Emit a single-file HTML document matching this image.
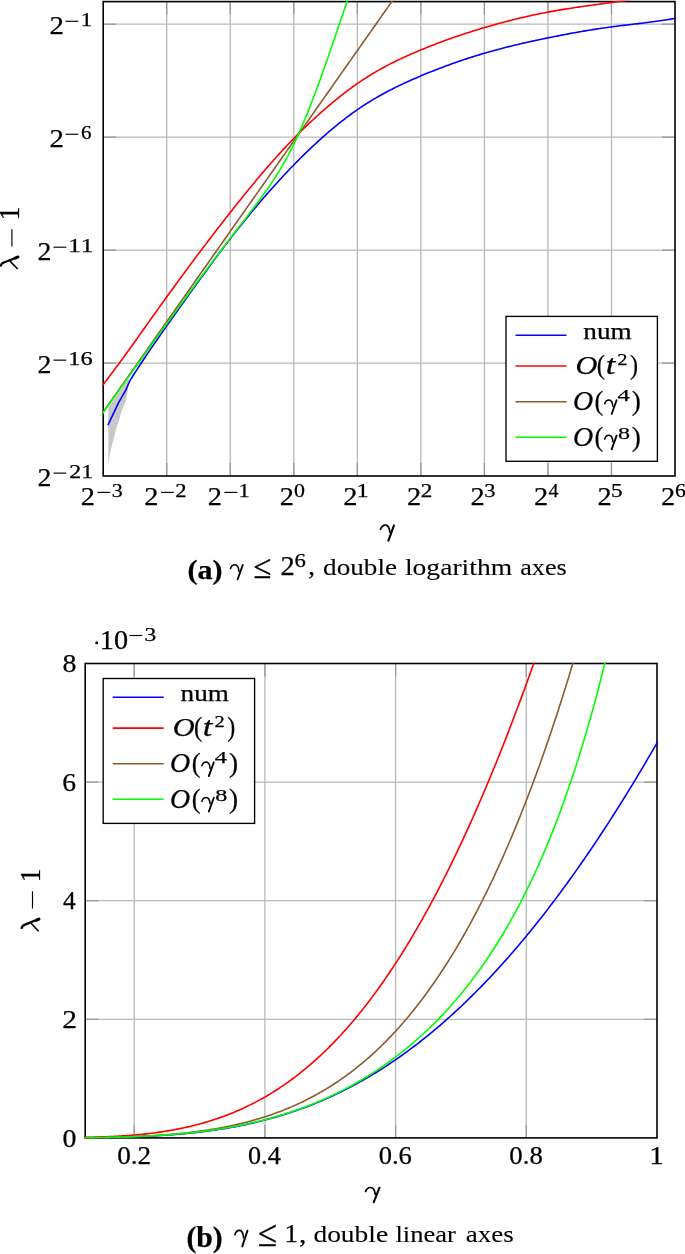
<!DOCTYPE html>
<html><head><meta charset="utf-8"><style>
html,body{margin:0;padding:0;background:#fff;width:685px;height:1254px;overflow:hidden}
svg text{font-family:"Liberation Serif",serif;font-kerning:none;stroke:#000;stroke-width:0.25px}
</style></head><body>
<svg width="685" height="1254" viewBox="0 0 685 1254" style="position:absolute;left:0;top:0;will-change:transform">
<defs><clipPath id="ca"><rect x="102.40" y="0.80" width="573.40" height="476.00"/></clipPath>
<clipPath id="cb"><rect x="84.40" y="662.70" width="573.40" height="476.00"/></clipPath></defs>
<line x1="166.73" y1="1.60" x2="166.73" y2="476.00" stroke="#b9b9b9" stroke-width="1.3"/>
<line x1="230.27" y1="1.60" x2="230.27" y2="476.00" stroke="#b9b9b9" stroke-width="1.3"/>
<line x1="293.80" y1="1.60" x2="293.80" y2="476.00" stroke="#b9b9b9" stroke-width="1.3"/>
<line x1="357.33" y1="1.60" x2="357.33" y2="476.00" stroke="#b9b9b9" stroke-width="1.3"/>
<line x1="420.87" y1="1.60" x2="420.87" y2="476.00" stroke="#b9b9b9" stroke-width="1.3"/>
<line x1="484.40" y1="1.60" x2="484.40" y2="476.00" stroke="#b9b9b9" stroke-width="1.3"/>
<line x1="547.93" y1="1.60" x2="547.93" y2="476.00" stroke="#b9b9b9" stroke-width="1.3"/>
<line x1="611.47" y1="1.60" x2="611.47" y2="476.00" stroke="#b9b9b9" stroke-width="1.3"/>
<line x1="103.20" y1="24.19" x2="675.00" y2="24.19" stroke="#b9b9b9" stroke-width="1.3"/>
<line x1="103.20" y1="137.14" x2="675.00" y2="137.14" stroke="#b9b9b9" stroke-width="1.3"/>
<line x1="103.20" y1="250.10" x2="675.00" y2="250.10" stroke="#b9b9b9" stroke-width="1.3"/>
<line x1="103.20" y1="363.05" x2="675.00" y2="363.05" stroke="#b9b9b9" stroke-width="1.3"/>
<line x1="166.73" y1="476.00" x2="166.73" y2="463.00" stroke="#9a9a9a" stroke-width="1.3"/>
<line x1="166.73" y1="1.60" x2="166.73" y2="14.60" stroke="#9a9a9a" stroke-width="1.3"/>
<line x1="230.27" y1="476.00" x2="230.27" y2="463.00" stroke="#9a9a9a" stroke-width="1.3"/>
<line x1="230.27" y1="1.60" x2="230.27" y2="14.60" stroke="#9a9a9a" stroke-width="1.3"/>
<line x1="293.80" y1="476.00" x2="293.80" y2="463.00" stroke="#9a9a9a" stroke-width="1.3"/>
<line x1="293.80" y1="1.60" x2="293.80" y2="14.60" stroke="#9a9a9a" stroke-width="1.3"/>
<line x1="357.33" y1="476.00" x2="357.33" y2="463.00" stroke="#9a9a9a" stroke-width="1.3"/>
<line x1="357.33" y1="1.60" x2="357.33" y2="14.60" stroke="#9a9a9a" stroke-width="1.3"/>
<line x1="420.87" y1="476.00" x2="420.87" y2="463.00" stroke="#9a9a9a" stroke-width="1.3"/>
<line x1="420.87" y1="1.60" x2="420.87" y2="14.60" stroke="#9a9a9a" stroke-width="1.3"/>
<line x1="484.40" y1="476.00" x2="484.40" y2="463.00" stroke="#9a9a9a" stroke-width="1.3"/>
<line x1="484.40" y1="1.60" x2="484.40" y2="14.60" stroke="#9a9a9a" stroke-width="1.3"/>
<line x1="547.93" y1="476.00" x2="547.93" y2="463.00" stroke="#9a9a9a" stroke-width="1.3"/>
<line x1="547.93" y1="1.60" x2="547.93" y2="14.60" stroke="#9a9a9a" stroke-width="1.3"/>
<line x1="611.47" y1="476.00" x2="611.47" y2="463.00" stroke="#9a9a9a" stroke-width="1.3"/>
<line x1="611.47" y1="1.60" x2="611.47" y2="14.60" stroke="#9a9a9a" stroke-width="1.3"/>
<line x1="103.20" y1="24.19" x2="116.20" y2="24.19" stroke="#9a9a9a" stroke-width="1.3"/>
<line x1="675.00" y1="24.19" x2="662.00" y2="24.19" stroke="#9a9a9a" stroke-width="1.3"/>
<line x1="103.20" y1="137.14" x2="116.20" y2="137.14" stroke="#9a9a9a" stroke-width="1.3"/>
<line x1="675.00" y1="137.14" x2="662.00" y2="137.14" stroke="#9a9a9a" stroke-width="1.3"/>
<line x1="103.20" y1="250.10" x2="116.20" y2="250.10" stroke="#9a9a9a" stroke-width="1.3"/>
<line x1="675.00" y1="250.10" x2="662.00" y2="250.10" stroke="#9a9a9a" stroke-width="1.3"/>
<line x1="103.20" y1="363.05" x2="116.20" y2="363.05" stroke="#9a9a9a" stroke-width="1.3"/>
<line x1="675.00" y1="363.05" x2="662.00" y2="363.05" stroke="#9a9a9a" stroke-width="1.3"/>
<rect x="103.20" y="1.60" width="571.80" height="474.40" fill="none" stroke="#000" stroke-width="1.6"/>
<g clip-path="url(#ca)" fill="none" stroke-width="1.6" stroke-linejoin="round">
<path d="M108.30,407.40 L117.40,394.60 L125.00,383.80 L129.00,378.40 L128.80,381.50 L127.40,393.20 L126.10,400.80 L123.50,406.80 L121.20,412.00 L119.60,418.20 L116.30,428.40 L114.30,436.00 L112.30,444.00 L110.50,451.50 L109.20,458.00 L108.50,465.00 L108.30,465.00Z" fill="#c8c8c8" stroke="none"/>
<path d="M107.90,425.10 L118.60,402.70 L126.20,389.30 L129.70,381.10 L131.40,378.20 L134.00,374.29 L135.82,371.42 L137.64,368.58 L139.46,365.77 L141.28,362.98 L143.10,360.22 L144.92,357.49 L146.74,354.77 L148.56,352.08 L150.38,349.41 L152.20,346.75 L154.02,344.11 L155.84,341.48 L157.66,338.86 L159.48,336.25 L161.30,333.66 L163.12,331.07 L164.94,328.48 L166.76,325.90 L168.58,323.32 L170.40,320.74 L172.22,318.16 L174.04,315.59 L175.86,313.01 L177.68,310.45 L179.50,307.88 L181.32,305.32 L183.14,302.76 L184.96,300.21 L186.78,297.66 L188.60,295.11 L190.42,292.57 L192.24,290.04 L194.06,287.51 L195.88,284.98 L197.70,282.46 L199.52,279.95 L201.34,277.45 L203.16,274.95 L204.98,272.46 L206.80,269.97 L208.62,267.50 L210.44,265.03 L212.26,262.57 L214.08,260.12 L215.90,257.68 L217.72,255.25 L219.54,252.83 L221.36,250.42 L223.18,248.02 L225.00,245.63 L226.82,243.25 L228.64,240.88 L230.46,238.53 L232.28,236.19 L234.10,233.86 L235.92,231.54 L237.74,229.23 L239.56,226.94 L241.38,224.66 L243.20,222.39 L245.02,220.14 L246.84,217.90 L248.66,215.67 L250.48,213.46 L252.30,211.26 L254.12,209.07 L255.94,206.90 L257.76,204.74 L259.58,202.59 L261.40,200.46 L263.22,198.34 L265.04,196.24 L266.86,194.15 L268.68,192.08 L270.50,190.02 L272.32,187.97 L274.14,185.94 L275.96,183.92 L277.78,181.92 L279.60,179.93 L281.42,177.96 L283.24,176.00 L285.06,174.06 L286.88,172.13 L288.70,170.22 L290.52,168.32 L292.34,166.43 L294.16,164.56 L295.98,162.70 L297.80,160.86 L299.62,159.04 L301.44,157.22 L303.26,155.43 L305.08,153.65 L306.90,151.88 L308.72,150.13 L310.54,148.39 L312.36,146.68 L314.18,144.97 L316.00,143.29 L317.82,141.62 L319.64,139.96 L321.46,138.32 L323.28,136.70 L325.10,135.10 L326.92,133.51 L328.74,131.94 L330.56,130.38 L332.38,128.85 L334.20,127.33 L336.02,125.83 L337.84,124.35 L339.66,122.88 L341.48,121.44 L343.30,120.01 L345.12,118.61 L346.94,117.22 L348.76,115.86 L350.58,114.51 L352.40,113.19 L354.22,111.88 L356.04,110.60 L357.86,109.34 L359.68,108.10 L361.50,106.88 L363.32,105.68 L365.14,104.51 L366.96,103.35 L368.78,102.21 L370.60,101.09 L372.42,99.99 L374.24,98.91 L376.06,97.84 L377.88,96.79 L379.70,95.76 L381.52,94.74 L383.34,93.74 L385.16,92.76 L386.98,91.79 L388.80,90.83 L390.62,89.89 L392.44,88.96 L394.26,88.05 L396.08,87.14 L397.90,86.25 L399.72,85.37 L401.54,84.51 L403.36,83.65 L405.18,82.81 L407.00,81.97 L408.82,81.15 L410.64,80.33 L412.46,79.52 L414.28,78.73 L416.10,77.94 L417.92,77.15 L419.74,76.38 L421.56,75.61 L423.38,74.85 L425.20,74.10 L427.02,73.35 L428.84,72.61 L430.66,71.88 L432.48,71.16 L434.30,70.44 L436.12,69.73 L437.94,69.02 L439.76,68.32 L441.58,67.63 L443.40,66.94 L445.22,66.26 L447.04,65.59 L448.86,64.92 L450.68,64.27 L452.50,63.61 L454.32,62.97 L456.14,62.33 L457.96,61.69 L459.78,61.07 L461.60,60.45 L463.42,59.83 L465.24,59.23 L467.06,58.63 L468.88,58.03 L470.70,57.45 L472.52,56.87 L474.34,56.29 L476.16,55.73 L477.98,55.16 L479.80,54.61 L481.62,54.06 L483.44,53.52 L485.26,52.99 L487.08,52.46 L488.90,51.94 L490.72,51.43 L492.54,50.92 L494.36,50.42 L496.18,49.93 L498.00,49.44 L499.82,48.95 L501.64,48.48 L503.46,48.00 L505.28,47.54 L507.10,47.08 L508.92,46.62 L510.74,46.17 L512.56,45.72 L514.38,45.28 L516.20,44.84 L518.02,44.41 L519.84,43.98 L521.66,43.56 L523.48,43.14 L525.30,42.73 L527.12,42.32 L528.94,41.91 L530.76,41.51 L532.58,41.11 L534.40,40.71 L536.22,40.32 L538.04,39.93 L539.86,39.54 L541.68,39.16 L543.50,38.78 L545.32,38.40 L547.14,38.03 L548.96,37.65 L550.78,37.29 L552.60,36.92 L554.42,36.56 L556.24,36.19 L558.06,35.84 L559.88,35.48 L561.70,35.13 L563.52,34.78 L565.34,34.43 L567.16,34.09 L568.98,33.75 L570.80,33.41 L572.62,33.08 L574.44,32.75 L576.26,32.42 L578.08,32.10 L579.90,31.78 L581.72,31.47 L583.54,31.16 L585.36,30.85 L587.18,30.54 L589.00,30.24 L590.82,29.95 L592.64,29.66 L594.46,29.37 L596.28,29.09 L598.10,28.81 L599.92,28.53 L601.74,28.26 L603.56,27.99 L605.38,27.73 L607.20,27.48 L609.02,27.22 L610.84,26.98 L612.66,26.73 L614.48,26.49 L616.30,26.26 L618.12,26.03 L619.94,25.80 L621.76,25.58 L623.58,25.36 L625.40,25.14 L627.22,24.92 L629.04,24.70 L630.86,24.49 L632.68,24.27 L634.50,24.06 L636.32,23.84 L638.14,23.62 L639.96,23.41 L641.78,23.19 L643.60,22.96 L645.42,22.74 L647.24,22.51 L649.06,22.28 L650.88,22.05 L652.70,21.81 L654.52,21.57 L656.34,21.32 L658.16,21.07 L659.98,20.81 L661.80,20.54 L663.62,20.27 L665.44,19.99 L667.26,19.71 L669.08,19.41 L670.90,19.11 L672.72,18.80 L674.54,18.48 L676.36,18.15 L678.18,17.81" stroke="#0000ff"/>
<path d="M100.02,388.66 L101.47,386.79 L102.92,384.91 L104.37,383.03 L105.82,381.13 L107.27,379.23 L108.72,377.31 L110.17,375.39 L111.62,373.46 L113.06,371.52 L114.51,369.57 L115.96,367.62 L117.41,365.66 L118.86,363.69 L120.31,361.72 L121.76,359.74 L123.21,357.75 L124.66,355.76 L126.11,353.76 L127.55,351.76 L129.00,349.75 L130.45,347.74 L131.90,345.73 L133.35,343.71 L134.80,341.69 L136.25,339.66 L137.70,337.63 L139.15,335.60 L140.60,333.57 L142.04,331.54 L143.49,329.50 L144.94,327.47 L146.39,325.43 L147.84,323.39 L149.29,321.36 L150.74,319.32 L152.19,317.28 L153.64,315.24 L155.09,313.21 L156.53,311.18 L157.98,309.14 L159.43,307.11 L160.88,305.09 L162.33,303.06 L163.78,301.04 L165.23,299.02 L166.68,297.01 L168.13,295.00 L169.58,292.99 L171.02,290.99 L172.47,288.99 L173.92,287.00 L175.37,285.01 L176.82,283.02 L178.27,281.04 L179.72,279.06 L181.17,277.09 L182.62,275.11 L184.07,273.15 L185.51,271.19 L186.96,269.23 L188.41,267.27 L189.86,265.32 L191.31,263.37 L192.76,261.43 L194.21,259.49 L195.66,257.55 L197.11,255.62 L198.56,253.69 L200.00,251.77 L201.45,249.85 L202.90,247.93 L204.35,246.02 L205.80,244.11 L207.25,242.20 L208.70,240.30 L210.15,238.40 L211.60,236.51 L213.05,234.62 L214.49,232.73 L215.94,230.85 L217.39,228.97 L218.84,227.10 L220.29,225.23 L221.74,223.36 L223.19,221.50 L224.64,219.64 L226.09,217.79 L227.54,215.94 L228.98,214.09 L230.43,212.25 L231.88,210.41 L233.33,208.58 L234.78,206.75 L236.23,204.92 L237.68,203.10 L239.13,201.29 L240.58,199.48 L242.03,197.67 L243.47,195.87 L244.92,194.08 L246.37,192.30 L247.82,190.52 L249.27,188.74 L250.72,186.98 L252.17,185.22 L253.62,183.47 L255.07,181.72 L256.52,179.98 L257.96,178.25 L259.41,176.53 L260.86,174.82 L262.31,173.11 L263.76,171.41 L265.21,169.72 L266.66,168.05 L268.11,166.37 L269.56,164.71 L271.01,163.06 L272.46,161.42 L273.90,159.78 L275.35,158.16 L276.80,156.55 L278.25,154.94 L279.70,153.35 L281.15,151.77 L282.60,150.20 L284.05,148.63 L285.50,147.08 L286.95,145.54 L288.39,144.01 L289.84,142.50 L291.29,140.99 L292.74,139.50 L294.19,138.01 L295.64,136.54 L297.09,135.08 L298.54,133.63 L299.99,132.20 L301.44,130.77 L302.88,129.35 L304.33,127.95 L305.78,126.56 L307.23,125.17 L308.68,123.80 L310.13,122.44 L311.58,121.09 L313.03,119.75 L314.48,118.42 L315.93,117.09 L317.37,115.78 L318.82,114.48 L320.27,113.19 L321.72,111.90 L323.17,110.63 L324.62,109.36 L326.07,108.11 L327.52,106.86 L328.97,105.62 L330.42,104.39 L331.86,103.17 L333.31,101.96 L334.76,100.76 L336.21,99.57 L337.66,98.39 L339.11,97.22 L340.56,96.07 L342.01,94.92 L343.46,93.78 L344.91,92.66 L346.35,91.55 L347.80,90.45 L349.25,89.37 L350.70,88.29 L352.15,87.23 L353.60,86.19 L355.05,85.15 L356.50,84.13 L357.95,83.13 L359.40,82.14 L360.84,81.16 L362.29,80.20 L363.74,79.25 L365.19,78.31 L366.64,77.38 L368.09,76.47 L369.54,75.57 L370.99,74.68 L372.44,73.81 L373.89,72.95 L375.33,72.09 L376.78,71.25 L378.23,70.42 L379.68,69.60 L381.13,68.80 L382.58,68.00 L384.03,67.21 L385.48,66.43 L386.93,65.66 L388.38,64.90 L389.82,64.15 L391.27,63.41 L392.72,62.68 L394.17,61.96 L395.62,61.24 L397.07,60.54 L398.52,59.84 L399.97,59.15 L401.42,58.46 L402.87,57.79 L404.31,57.12 L405.76,56.46 L407.21,55.80 L408.66,55.15 L410.11,54.51 L411.56,53.87 L413.01,53.24 L414.46,52.62 L415.91,52.00 L417.36,51.39 L418.80,50.78 L420.25,50.17 L421.70,49.57 L423.15,48.98 L424.60,48.39 L426.05,47.81 L427.50,47.22 L428.95,46.65 L430.40,46.08 L431.85,45.51 L433.29,44.95 L434.74,44.39 L436.19,43.83 L437.64,43.28 L439.09,42.74 L440.54,42.20 L441.99,41.66 L443.44,41.12 L444.89,40.59 L446.34,40.07 L447.78,39.55 L449.23,39.03 L450.68,38.52 L452.13,38.01 L453.58,37.50 L455.03,37.00 L456.48,36.50 L457.93,36.00 L459.38,35.51 L460.83,35.03 L462.27,34.54 L463.72,34.06 L465.17,33.59 L466.62,33.11 L468.07,32.64 L469.52,32.18 L470.97,31.72 L472.42,31.26 L473.87,30.80 L475.32,30.35 L476.76,29.90 L478.21,29.46 L479.66,29.02 L481.11,28.58 L482.56,28.14 L484.01,27.71 L485.46,27.28 L486.91,26.86 L488.36,26.44 L489.81,26.02 L491.25,25.61 L492.70,25.20 L494.15,24.79 L495.60,24.38 L497.05,23.98 L498.50,23.59 L499.95,23.19 L501.40,22.80 L502.85,22.41 L504.30,22.03 L505.74,21.65 L507.19,21.27 L508.64,20.90 L510.09,20.53 L511.54,20.16 L512.99,19.80 L514.44,19.44 L515.89,19.08 L517.34,18.73 L518.79,18.38 L520.24,18.04 L521.68,17.69 L523.13,17.36 L524.58,17.02 L526.03,16.69 L527.48,16.36 L528.93,16.04 L530.38,15.72 L531.83,15.40 L533.28,15.09 L534.73,14.78 L536.17,14.47 L537.62,14.17 L539.07,13.87 L540.52,13.58 L541.97,13.29 L543.42,13.00 L544.87,12.72 L546.32,12.44 L547.77,12.16 L549.22,11.89 L550.66,11.62 L552.11,11.36 L553.56,11.10 L555.01,10.84 L556.46,10.58 L557.91,10.33 L559.36,10.09 L560.81,9.84 L562.26,9.60 L563.71,9.36 L565.15,9.12 L566.60,8.89 L568.05,8.66 L569.50,8.43 L570.95,8.21 L572.40,7.98 L573.85,7.76 L575.30,7.54 L576.75,7.32 L578.20,7.11 L579.64,6.89 L581.09,6.68 L582.54,6.47 L583.99,6.26 L585.44,6.06 L586.89,5.85 L588.34,5.65 L589.79,5.44 L591.24,5.24 L592.69,5.04 L594.13,4.84 L595.58,4.64 L597.03,4.44 L598.48,4.24 L599.93,4.04 L601.38,3.85 L602.83,3.65 L604.28,3.45 L605.73,3.25 L607.18,3.06 L608.62,2.86 L610.07,2.66 L611.52,2.47 L612.97,2.27 L614.42,2.07 L615.87,1.87 L617.32,1.68 L618.77,1.48 L620.22,1.28 L621.67,1.07 L623.11,0.87 L624.56,0.67 L626.01,0.46 L627.46,0.26 L628.91,0.05 L630.36,-0.16 L631.81,-0.37 L633.26,-0.58 L634.71,-0.79 L636.16,-1.01 L637.60,-1.22 L639.05,-1.44 L640.50,-1.66 L641.95,-1.89 L643.40,-2.11 L644.85,-2.34 L646.30,-2.57 L647.75,-2.80 L649.20,-3.04 L650.65,-3.28 L652.09,-3.52 L653.54,-3.76 L654.99,-4.01 L656.44,-4.26 L657.89,-4.51 L659.34,-4.77 L660.79,-5.03 L662.24,-5.29 L663.69,-5.56 L665.14,-5.83 L666.58,-6.10 L668.03,-6.38 L669.48,-6.66 L670.93,-6.95 L672.38,-7.24 L673.83,-7.53 L675.28,-7.83 L676.73,-8.13 L678.18,-8.44" stroke="#ff0000"/>
<path d="M100.02,416.59 L101.64,414.29 L103.25,412.00 L104.86,409.71 L106.47,407.41 L108.08,405.12 L109.70,402.83 L111.31,400.53 L112.92,398.24 L114.53,395.95 L116.15,393.65 L117.76,391.36 L119.37,389.07 L120.98,386.78 L122.60,384.48 L124.21,382.19 L125.82,379.90 L127.43,377.60 L129.04,375.31 L130.66,373.02 L132.27,370.72 L133.88,368.43 L135.49,366.14 L137.11,363.84 L138.72,361.55 L140.33,359.26 L141.94,356.96 L143.55,354.67 L145.17,352.38 L146.78,350.09 L148.39,347.79 L150.00,345.50 L151.62,343.21 L153.23,340.91 L154.84,338.62 L156.45,336.33 L158.07,334.03 L159.68,331.74 L161.29,329.45 L162.90,327.15 L164.51,324.86 L166.13,322.57 L167.74,320.28 L169.35,317.98 L170.96,315.69 L172.58,313.40 L174.19,311.10 L175.80,308.81 L177.41,306.52 L179.02,304.22 L180.64,301.93 L182.25,299.64 L183.86,297.34 L185.47,295.05 L187.09,292.76 L188.70,290.46 L190.31,288.17 L191.92,285.88 L193.54,283.59 L195.15,281.29 L196.76,279.00 L198.37,276.71 L199.98,274.41 L201.60,272.12 L203.21,269.83 L204.82,267.53 L206.43,265.24 L208.05,262.95 L209.66,260.65 L211.27,258.36 L212.88,256.07 L214.50,253.77 L216.11,251.48 L217.72,249.19 L219.33,246.90 L220.94,244.60 L222.56,242.31 L224.17,240.02 L225.78,237.72 L227.39,235.43 L229.01,233.14 L230.62,230.84 L232.23,228.55 L233.84,226.26 L235.45,223.96 L237.07,221.67 L238.68,219.38 L240.29,217.09 L241.90,214.79 L243.52,212.50 L245.13,210.21 L246.74,207.91 L248.35,205.62 L249.97,203.33 L251.58,201.03 L253.19,198.74 L254.80,196.45 L256.41,194.15 L258.03,191.86 L259.64,189.57 L261.25,187.27 L262.86,184.98 L264.48,182.69 L266.09,180.40 L267.70,178.10 L269.31,175.81 L270.92,173.52 L272.54,171.22 L274.15,168.93 L275.76,166.64 L277.37,164.34 L278.99,162.05 L280.60,159.76 L282.21,157.46 L283.82,155.17 L285.44,152.88 L287.05,150.59 L288.66,148.29 L290.27,146.00 L291.88,143.71 L293.50,141.41 L295.11,139.12 L296.72,136.83 L298.33,134.53 L299.95,132.24 L301.56,129.95 L303.17,127.65 L304.78,125.36 L306.39,123.07 L308.01,120.77 L309.62,118.48 L311.23,116.19 L312.84,113.90 L314.46,111.60 L316.07,109.31 L317.68,107.02 L319.29,104.72 L320.91,102.43 L322.52,100.14 L324.13,97.84 L325.74,95.55 L327.35,93.26 L328.97,90.96 L330.58,88.67 L332.19,86.38 L333.80,84.09 L335.42,81.79 L337.03,79.50 L338.64,77.21 L340.25,74.91 L341.87,72.62 L343.48,70.33 L345.09,68.03 L346.70,65.74 L348.31,63.45 L349.93,61.15 L351.54,58.86 L353.15,56.57 L354.76,54.27 L356.38,51.98 L357.99,49.69 L359.60,47.40 L361.21,45.10 L362.82,42.81 L364.44,40.52 L366.05,38.22 L367.66,35.93 L369.27,33.64 L370.89,31.34 L372.50,29.05 L374.11,26.76 L375.72,24.46 L377.34,22.17 L378.95,19.88 L380.56,17.59 L382.17,15.29 L383.78,13.00 L385.40,10.71 L387.01,8.41 L388.62,6.12 L390.23,3.83 L391.85,1.53 L393.46,-0.76 L395.07,-3.05 L396.68,-5.35 L398.29,-7.64 L399.91,-9.93 L401.52,-12.23 L403.13,-14.52 L404.74,-16.81 L406.36,-19.10 L407.97,-21.40 L409.58,-23.69 L411.19,-25.98 L412.81,-28.28 L414.42,-30.57 L416.03,-32.86 L417.64,-35.16 L419.25,-37.45 L420.87,-39.74" stroke="#8c5a2d"/>
<path d="M100.02,417.06 L100.93,415.78 L101.83,414.51 L102.73,413.23 L103.64,411.96 L104.54,410.68 L105.44,409.41 L106.34,408.14 L107.25,406.86 L108.15,405.59 L109.05,404.32 L109.96,403.04 L110.86,401.77 L111.76,400.50 L112.67,399.22 L113.57,397.95 L114.47,396.68 L115.38,395.41 L116.28,394.14 L117.18,392.87 L118.08,391.60 L118.99,390.32 L119.89,389.05 L120.79,387.78 L121.70,386.51 L122.60,385.24 L123.50,383.98 L124.41,382.71 L125.31,381.44 L126.21,380.17 L127.12,378.90 L128.02,377.63 L128.92,376.37 L129.82,375.10 L130.73,373.83 L131.63,372.57 L132.53,371.30 L133.44,370.03 L134.34,368.77 L135.24,367.50 L136.15,366.24 L137.05,364.98 L137.95,363.71 L138.86,362.45 L139.76,361.19 L140.66,359.92 L141.56,358.66 L142.47,357.40 L143.37,356.14 L144.27,354.88 L145.18,353.62 L146.08,352.36 L146.98,351.10 L147.89,349.84 L148.79,348.58 L149.69,347.32 L150.60,346.06 L151.50,344.81 L152.40,343.55 L153.30,342.29 L154.21,341.04 L155.11,339.78 L156.01,338.53 L156.92,337.28 L157.82,336.02 L158.72,334.77 L159.63,333.52 L160.53,332.27 L161.43,331.02 L162.33,329.77 L163.24,328.52 L164.14,327.27 L165.04,326.02 L165.95,324.77 L166.85,323.52 L167.75,322.28 L168.66,321.03 L169.56,319.79 L170.46,318.54 L171.37,317.30 L172.27,316.06 L173.17,314.82 L174.07,313.58 L174.98,312.34 L175.88,311.10 L176.78,309.86 L177.69,308.62 L178.59,307.38 L179.49,306.15 L180.40,304.91 L181.30,303.68 L182.20,302.44 L183.11,301.21 L184.01,299.98 L184.91,298.75 L185.81,297.52 L186.72,296.29 L187.62,295.06 L188.52,293.84 L189.43,292.61 L190.33,291.39 L191.23,290.16 L192.14,288.94 L193.04,287.72 L193.94,286.50 L194.85,285.28 L195.75,284.06 L196.65,282.84 L197.55,281.62 L198.46,280.41 L199.36,279.20 L200.26,277.98 L201.17,276.77 L202.07,275.56 L202.97,274.35 L203.88,273.14 L204.78,271.94 L205.68,270.73 L206.59,269.52 L207.49,268.32 L208.39,267.12 L209.29,265.92 L210.20,264.72 L211.10,263.52 L212.00,262.32 L212.91,261.12 L213.81,259.93 L214.71,258.74 L215.62,257.54 L216.52,256.35 L217.42,255.16 L218.32,253.97 L219.23,252.78 L220.13,251.60 L221.03,250.41 L221.94,249.22 L222.84,248.04 L223.74,246.86 L224.65,245.68 L225.55,244.50 L226.45,243.32 L227.36,242.14 L228.26,240.96 L229.16,239.78 L230.06,238.61 L230.97,237.43 L231.87,236.26 L232.77,235.08 L233.68,233.91 L234.58,232.74 L235.48,231.56 L236.39,230.39 L237.29,229.22 L238.19,228.05 L239.10,226.87 L240.00,225.70 L240.90,224.53 L241.80,223.36 L242.71,222.18 L243.61,221.01 L244.51,219.83 L245.42,218.66 L246.32,217.48 L247.22,216.30 L248.13,215.12 L249.03,213.94 L249.93,212.76 L250.84,211.57 L251.74,210.38 L252.64,209.19 L253.54,208.00 L254.45,206.80 L255.35,205.60 L256.25,204.40 L257.16,203.19 L258.06,201.97 L258.96,200.75 L259.87,199.53 L260.77,198.30 L261.67,197.06 L262.58,195.82 L263.48,194.56 L264.38,193.30 L265.28,192.04 L266.19,190.76 L267.09,189.47 L267.99,188.18 L268.90,186.87 L269.80,185.55 L270.70,184.22 L271.61,182.88 L272.51,181.53 L273.41,180.16 L274.32,178.77 L275.22,177.38 L276.12,175.96 L277.02,174.53 L277.93,173.08 L278.83,171.62 L279.73,170.13 L280.64,168.63 L281.54,167.11 L282.44,165.56 L283.35,164.00 L284.25,162.41 L285.15,160.80 L286.05,159.17 L286.96,157.51 L287.86,155.83 L288.76,154.13 L289.67,152.40 L290.57,150.64 L291.47,148.86 L292.38,147.06 L293.28,145.22 L294.18,143.37 L295.09,141.48 L295.99,139.57 L296.89,137.63 L297.79,135.66 L298.70,133.67 L299.60,131.65 L300.50,129.61 L301.41,127.54 L302.31,125.44 L303.21,123.32 L304.12,121.18 L305.02,119.00 L305.92,116.81 L306.83,114.59 L307.73,112.35 L308.63,110.09 L309.53,107.80 L310.44,105.49 L311.34,103.16 L312.24,100.82 L313.15,98.45 L314.05,96.06 L314.95,93.66 L315.86,91.24 L316.76,88.80 L317.66,86.35 L318.57,83.88 L319.47,81.40 L320.37,78.90 L321.27,76.39 L322.18,73.87 L323.08,71.33 L323.98,68.79 L324.89,66.23 L325.79,63.67 L326.69,61.09 L327.60,58.50 L328.50,55.91 L329.40,53.31 L330.31,50.70 L331.21,48.09 L332.11,45.47 L333.01,42.84 L333.92,40.20 L334.82,37.57 L335.72,34.92 L336.63,32.27 L337.53,29.62 L338.43,26.97 L339.34,24.31 L340.24,21.65 L341.14,18.98 L342.04,16.32 L342.95,13.65 L343.85,10.97 L344.75,8.30 L345.66,5.63 L346.56,2.95 L347.46,0.27 L348.37,-2.41 L349.27,-5.08 L350.17,-7.76 L351.08,-10.45 L351.98,-13.13 L352.88,-15.81 L353.78,-18.49 L354.69,-21.17 L355.59,-23.85 L356.49,-26.53 L357.40,-29.21 L358.30,-31.89 L359.20,-34.57 L360.11,-37.25 L361.01,-39.93 L361.91,-42.61 L362.82,-45.28 L363.72,-47.96 L364.62,-50.64 L365.52,-53.31 L366.43,-55.98 L367.33,-58.66 L368.23,-61.33 L369.14,-64.00 L370.04,-66.67" stroke="#00ff00"/>
</g>
<text x="49.43" y="34.19" font-size="25.83" textLength="14.47" lengthAdjust="spacingAndGlyphs" fill="#000">2</text>
<rect x="65.50" y="20.72" width="12.80" height="1.15" fill="#000"/>
<text x="80.68" y="26.19" font-size="18.78" textLength="11.50" lengthAdjust="spacingAndGlyphs" fill="#000">1</text>
<text x="49.43" y="147.14" font-size="25.83" textLength="14.47" lengthAdjust="spacingAndGlyphs" fill="#000">2</text>
<rect x="65.50" y="133.67" width="12.80" height="1.15" fill="#000"/>
<text x="81.09" y="139.14" font-size="18.73" textLength="10.53" lengthAdjust="spacingAndGlyphs" fill="#000">6</text>
<text x="37.47" y="260.10" font-size="25.83" textLength="13.97" lengthAdjust="spacingAndGlyphs" fill="#000">2</text>
<rect x="53.50" y="246.62" width="12.80" height="1.15" fill="#000"/>
<text x="68.19" y="252.10" font-size="18.78" textLength="25.12" lengthAdjust="spacingAndGlyphs" fill="#000">11</text>
<text x="37.47" y="373.05" font-size="25.83" textLength="13.97" lengthAdjust="spacingAndGlyphs" fill="#000">2</text>
<rect x="53.50" y="359.57" width="12.80" height="1.15" fill="#000"/>
<text x="68.27" y="365.05" font-size="18.73" textLength="24.25" lengthAdjust="spacingAndGlyphs" fill="#000">16</text>
<text x="37.47" y="486.00" font-size="25.83" textLength="13.97" lengthAdjust="spacingAndGlyphs" fill="#000">2</text>
<rect x="53.50" y="472.53" width="12.80" height="1.15" fill="#000"/>
<text x="69.35" y="478.00" font-size="18.73" textLength="23.88" lengthAdjust="spacingAndGlyphs" fill="#000">21</text>
<text x="80.75" y="505.20" font-size="25.83" textLength="14.22" lengthAdjust="spacingAndGlyphs" fill="#000">2</text>
<rect x="97.40" y="491.82" width="12.90" height="1.15" fill="#000"/>
<text x="111.75" y="496.50" font-size="18.73" textLength="11.01" lengthAdjust="spacingAndGlyphs" fill="#000">3</text>
<text x="144.28" y="505.20" font-size="25.83" textLength="14.22" lengthAdjust="spacingAndGlyphs" fill="#000">2</text>
<rect x="160.93" y="491.82" width="12.90" height="1.15" fill="#000"/>
<text x="175.34" y="496.50" font-size="18.73" textLength="11.35" lengthAdjust="spacingAndGlyphs" fill="#000">2</text>
<text x="207.82" y="505.20" font-size="25.83" textLength="14.22" lengthAdjust="spacingAndGlyphs" fill="#000">2</text>
<rect x="224.47" y="491.82" width="12.90" height="1.15" fill="#000"/>
<text x="238.59" y="496.50" font-size="18.78" textLength="11.22" lengthAdjust="spacingAndGlyphs" fill="#000">1</text>
<text x="279.85" y="505.20" font-size="25.83" textLength="14.22" lengthAdjust="spacingAndGlyphs" fill="#000">2</text>
<text x="293.96" y="496.50" font-size="18.65" textLength="10.97" lengthAdjust="spacingAndGlyphs" fill="#000">0</text>
<text x="343.38" y="505.20" font-size="25.83" textLength="14.22" lengthAdjust="spacingAndGlyphs" fill="#000">2</text>
<text x="356.49" y="496.50" font-size="18.78" textLength="12.21" lengthAdjust="spacingAndGlyphs" fill="#000">1</text>
<text x="406.92" y="505.20" font-size="25.83" textLength="14.22" lengthAdjust="spacingAndGlyphs" fill="#000">2</text>
<text x="420.85" y="496.50" font-size="18.73" textLength="11.60" lengthAdjust="spacingAndGlyphs" fill="#000">2</text>
<text x="470.45" y="505.20" font-size="25.83" textLength="14.22" lengthAdjust="spacingAndGlyphs" fill="#000">2</text>
<text x="484.32" y="496.50" font-size="18.73" textLength="11.26" lengthAdjust="spacingAndGlyphs" fill="#000">3</text>
<text x="533.98" y="505.20" font-size="25.83" textLength="14.22" lengthAdjust="spacingAndGlyphs" fill="#000">2</text>
<text x="548.54" y="496.50" font-size="18.84" textLength="10.00" lengthAdjust="spacingAndGlyphs" fill="#000">4</text>
<text x="597.52" y="505.20" font-size="25.83" textLength="14.22" lengthAdjust="spacingAndGlyphs" fill="#000">2</text>
<text x="611.13" y="496.50" font-size="18.94" textLength="11.54" lengthAdjust="spacingAndGlyphs" fill="#000">5</text>
<text x="661.05" y="505.20" font-size="25.83" textLength="14.22" lengthAdjust="spacingAndGlyphs" fill="#000">2</text>
<text x="675.06" y="496.50" font-size="18.73" textLength="10.88" lengthAdjust="spacingAndGlyphs" fill="#000">6</text>
<g transform="translate(379.70,524.20) scale(1.1250,1.1076)" fill="none" stroke="#000" stroke-linecap="round"><path d="M0.8,4.6 C1.6,1.9 3.5,0.8 5.2,0.85 C7.4,0.95 8.6,2.9 9.0,7.2" stroke-width="1.55"/><path d="M12.7,1.1 L7.75,14.9" stroke-width="1.85"/></g>
<g transform="rotate(-90)">
<rect x="-246.50" y="11.33" width="17.30" height="1.15" fill="#000"/>
<text x="-220.51" y="18.60" font-size="29.08" textLength="13.99" lengthAdjust="spacingAndGlyphs" fill="#000">1</text>
</g>
<g transform="translate(0.00,0.00)" stroke="#000" fill="none">
<path d="M0.45,266.7 C0.7,264.6 1.8,263.2 4.0,262.4 L17.9,256.9" stroke-width="2.2"/>
<path d="M15.2,258.1 L18.0,256.9" stroke-width="2.9" stroke-linecap="round"/>
<path d="M9.96,261.1 L17.67,269.0" stroke-width="1.6"/>
</g>
<g transform="translate(0.00,0.00)">
<rect x="506.0" y="316.4" width="151.4" height="144.9" fill="#fff" stroke="#000" stroke-width="1.35"/>
<line x1="515.5" y1="335.20" x2="566.5" y2="335.20" stroke="#0000ff" stroke-width="1.6"/>
<line x1="515.5" y1="366.00" x2="566.5" y2="366.00" stroke="#ff0000" stroke-width="1.6"/>
<line x1="515.5" y1="401.70" x2="566.5" y2="401.70" stroke="#8c5a2d" stroke-width="1.6"/>
<line x1="515.5" y1="437.20" x2="566.5" y2="437.20" stroke="#00ff00" stroke-width="1.6"/>
<text x="583.38" y="338.80" font-size="22.50" textLength="48.35" lengthAdjust="spacingAndGlyphs" fill="#000">num</text>
<text x="575.57" y="374.40" font-size="25.98" font-style="italic" textLength="21.94" lengthAdjust="spacingAndGlyphs" fill="#000">O</text>
<text x="596.80" y="374.40" font-size="28.30" textLength="8.30" lengthAdjust="spacingAndGlyphs" fill="#000">(</text>
<text x="605.68" y="374.40" font-size="26.47" font-style="italic" textLength="9.63" lengthAdjust="spacingAndGlyphs" fill="#000">t</text>
<text x="617.30" y="364.90" font-size="15.71" textLength="10.23" lengthAdjust="spacingAndGlyphs" fill="#000">2</text>
<text x="630.02" y="374.40" font-size="28.30" textLength="8.04" lengthAdjust="spacingAndGlyphs" fill="#000">)</text>
<text x="572.90" y="410.20" font-size="26.58" font-style="italic" textLength="20.16" lengthAdjust="spacingAndGlyphs" fill="#000">O</text>
<text x="594.44" y="410.20" font-size="28.30" textLength="8.82" lengthAdjust="spacingAndGlyphs" fill="#000">(</text>
<g transform="translate(603.90,399.10) scale(1.0000,1.0000)" fill="none" stroke="#000" stroke-linecap="round"><path d="M0.8,4.6 C1.6,1.9 3.5,0.8 5.2,0.85 C7.4,0.95 8.6,2.9 9.0,7.2" stroke-width="1.55"/><path d="M12.7,1.1 L7.75,14.9" stroke-width="1.85"/></g>
<text x="617.62" y="401.40" font-size="17.47" textLength="12.26" lengthAdjust="spacingAndGlyphs" fill="#000">4</text>
<text x="631.82" y="410.20" font-size="28.30" textLength="9.08" lengthAdjust="spacingAndGlyphs" fill="#000">)</text>
<text x="572.90" y="445.60" font-size="26.58" font-style="italic" textLength="20.16" lengthAdjust="spacingAndGlyphs" fill="#000">O</text>
<text x="594.44" y="445.60" font-size="28.30" textLength="8.82" lengthAdjust="spacingAndGlyphs" fill="#000">(</text>
<g transform="translate(603.90,434.50) scale(1.0000,1.0000)" fill="none" stroke="#000" stroke-linecap="round"><path d="M0.8,4.6 C1.6,1.9 3.5,0.8 5.2,0.85 C7.4,0.95 8.6,2.9 9.0,7.2" stroke-width="1.55"/><path d="M12.7,1.1 L7.75,14.9" stroke-width="1.85"/></g>
<text x="618.08" y="438.80" font-size="17.29" textLength="12.03" lengthAdjust="spacingAndGlyphs" fill="#000">8</text>
<text x="631.82" y="445.60" font-size="28.30" textLength="9.08" lengthAdjust="spacingAndGlyphs" fill="#000">)</text>
</g>
<text x="187.58" y="578.60" font-size="27.82" font-weight="bold" textLength="35.04" lengthAdjust="spacingAndGlyphs" fill="#000">(a)</text>
<g transform="translate(229.70,563.80) scale(1.0294,1.0380)" fill="none" stroke="#000" stroke-linecap="round"><path d="M0.8,4.6 C1.6,1.9 3.5,0.8 5.2,0.85 C7.4,0.95 8.6,2.9 9.0,7.2" stroke-width="1.55"/><path d="M12.7,1.1 L7.75,14.9" stroke-width="1.85"/></g>
<text x="253.14" y="578.40" font-size="33.14" textLength="18.05" lengthAdjust="spacingAndGlyphs" fill="#000">≤</text>
<text x="280.45" y="575.20" font-size="26.43" textLength="14.22" lengthAdjust="spacingAndGlyphs" fill="#000">2</text>
<text x="294.42" y="566.80" font-size="18.58" textLength="11.35" lengthAdjust="spacingAndGlyphs" fill="#000">6</text>
<text x="308.28" y="575.20" font-size="26.00" textLength="6.71" lengthAdjust="spacingAndGlyphs" fill="#000">,</text>
<text x="323.12" y="575.00" font-size="24.00" textLength="73.92" lengthAdjust="spacingAndGlyphs" fill="#000" style="stroke-width:0.1px">double</text>
<text x="404.95" y="575.00" font-size="24.00" textLength="107.18" lengthAdjust="spacingAndGlyphs" fill="#000" style="stroke-width:0.1px">logarithm</text>
<text x="520.18" y="575.00" font-size="24.00" textLength="46.57" lengthAdjust="spacingAndGlyphs" fill="#000" style="stroke-width:0.1px">axes</text>
<line x1="134.21" y1="663.50" x2="134.21" y2="1137.90" stroke="#b9b9b9" stroke-width="1.3"/>
<line x1="264.91" y1="663.50" x2="264.91" y2="1137.90" stroke="#b9b9b9" stroke-width="1.3"/>
<line x1="395.61" y1="663.50" x2="395.61" y2="1137.90" stroke="#b9b9b9" stroke-width="1.3"/>
<line x1="526.30" y1="663.50" x2="526.30" y2="1137.90" stroke="#b9b9b9" stroke-width="1.3"/>
<line x1="85.20" y1="1019.30" x2="657.00" y2="1019.30" stroke="#b9b9b9" stroke-width="1.3"/>
<line x1="85.20" y1="900.70" x2="657.00" y2="900.70" stroke="#b9b9b9" stroke-width="1.3"/>
<line x1="85.20" y1="782.10" x2="657.00" y2="782.10" stroke="#b9b9b9" stroke-width="1.3"/>
<line x1="134.21" y1="1137.90" x2="134.21" y2="1124.90" stroke="#9a9a9a" stroke-width="1.3"/>
<line x1="134.21" y1="663.50" x2="134.21" y2="676.50" stroke="#9a9a9a" stroke-width="1.3"/>
<line x1="264.91" y1="1137.90" x2="264.91" y2="1124.90" stroke="#9a9a9a" stroke-width="1.3"/>
<line x1="264.91" y1="663.50" x2="264.91" y2="676.50" stroke="#9a9a9a" stroke-width="1.3"/>
<line x1="395.61" y1="1137.90" x2="395.61" y2="1124.90" stroke="#9a9a9a" stroke-width="1.3"/>
<line x1="395.61" y1="663.50" x2="395.61" y2="676.50" stroke="#9a9a9a" stroke-width="1.3"/>
<line x1="526.30" y1="1137.90" x2="526.30" y2="1124.90" stroke="#9a9a9a" stroke-width="1.3"/>
<line x1="526.30" y1="663.50" x2="526.30" y2="676.50" stroke="#9a9a9a" stroke-width="1.3"/>
<line x1="85.20" y1="1019.30" x2="98.20" y2="1019.30" stroke="#9a9a9a" stroke-width="1.3"/>
<line x1="657.00" y1="1019.30" x2="644.00" y2="1019.30" stroke="#9a9a9a" stroke-width="1.3"/>
<line x1="85.20" y1="900.70" x2="98.20" y2="900.70" stroke="#9a9a9a" stroke-width="1.3"/>
<line x1="657.00" y1="900.70" x2="644.00" y2="900.70" stroke="#9a9a9a" stroke-width="1.3"/>
<line x1="85.20" y1="782.10" x2="98.20" y2="782.10" stroke="#9a9a9a" stroke-width="1.3"/>
<line x1="657.00" y1="782.10" x2="644.00" y2="782.10" stroke="#9a9a9a" stroke-width="1.3"/>
<rect x="85.20" y="663.50" width="571.80" height="474.40" fill="none" stroke="#000" stroke-width="1.6"/>
<g clip-path="url(#cb)" fill="none" stroke-width="1.6" stroke-linejoin="round">
<path d="M81.93,1137.81 L83.88,1137.79 L85.82,1137.78 L87.77,1137.76 L89.71,1137.74 L91.66,1137.72 L93.60,1137.70 L95.55,1137.67 L97.49,1137.65 L99.44,1137.62 L101.38,1137.59 L103.33,1137.56 L105.27,1137.53 L107.22,1137.49 L109.16,1137.45 L111.11,1137.41 L113.06,1137.37 L115.00,1137.33 L116.95,1137.28 L118.89,1137.23 L120.84,1137.18 L122.78,1137.13 L124.73,1137.07 L126.67,1137.01 L128.62,1136.95 L130.56,1136.89 L132.51,1136.82 L134.45,1136.75 L136.40,1136.68 L138.34,1136.60 L140.29,1136.52 L142.23,1136.44 L144.18,1136.35 L146.12,1136.26 L148.07,1136.17 L150.01,1136.07 L151.96,1135.97 L153.90,1135.87 L155.85,1135.76 L157.79,1135.65 L159.74,1135.54 L161.68,1135.42 L163.63,1135.29 L165.57,1135.16 L167.52,1135.03 L169.46,1134.89 L171.41,1134.75 L173.36,1134.60 L175.30,1134.45 L177.25,1134.29 L179.19,1134.13 L181.14,1133.96 L183.08,1133.78 L185.03,1133.60 L186.97,1133.42 L188.92,1133.23 L190.86,1133.03 L192.81,1132.82 L194.75,1132.62 L196.70,1132.40 L198.64,1132.18 L200.59,1131.95 L202.53,1131.71 L204.48,1131.47 L206.42,1131.22 L208.37,1130.97 L210.31,1130.71 L212.26,1130.44 L214.20,1130.16 L216.15,1129.87 L218.09,1129.58 L220.04,1129.28 L221.98,1128.98 L223.93,1128.66 L225.87,1128.34 L227.82,1128.01 L229.76,1127.67 L231.71,1127.33 L233.65,1126.97 L235.60,1126.61 L237.55,1126.24 L239.49,1125.86 L241.44,1125.47 L243.38,1125.07 L245.33,1124.67 L247.27,1124.25 L249.22,1123.83 L251.16,1123.39 L253.11,1122.95 L255.05,1122.50 L257.00,1122.04 L258.94,1121.57 L260.89,1121.09 L262.83,1120.59 L264.78,1120.09 L266.72,1119.58 L268.67,1119.06 L270.61,1118.53 L272.56,1117.99 L274.50,1117.44 L276.45,1116.88 L278.39,1116.31 L280.34,1115.73 L282.28,1115.13 L284.23,1114.53 L286.17,1113.92 L288.12,1113.29 L290.06,1112.66 L292.01,1112.01 L293.95,1111.35 L295.90,1110.68 L297.85,1110.00 L299.79,1109.31 L301.74,1108.60 L303.68,1107.89 L305.63,1107.16 L307.57,1106.42 L309.52,1105.67 L311.46,1104.91 L313.41,1104.14 L315.35,1103.35 L317.30,1102.55 L319.24,1101.74 L321.19,1100.92 L323.13,1100.09 L325.08,1099.24 L327.02,1098.38 L328.97,1097.51 L330.91,1096.62 L332.86,1095.73 L334.80,1094.82 L336.75,1093.90 L338.69,1092.96 L340.64,1092.02 L342.58,1091.06 L344.53,1090.08 L346.47,1089.10 L348.42,1088.10 L350.36,1087.09 L352.31,1086.06 L354.25,1085.02 L356.20,1083.97 L358.15,1082.91 L360.09,1081.83 L362.04,1080.74 L363.98,1079.63 L365.93,1078.51 L367.87,1077.38 L369.82,1076.23 L371.76,1075.07 L373.71,1073.90 L375.65,1072.71 L377.60,1071.51 L379.54,1070.30 L381.49,1069.07 L383.43,1067.83 L385.38,1066.57 L387.32,1065.30 L389.27,1064.01 L391.21,1062.71 L393.16,1061.40 L395.10,1060.07 L397.05,1058.73 L398.99,1057.38 L400.94,1056.01 L402.88,1054.62 L404.83,1053.22 L406.77,1051.81 L408.72,1050.38 L410.66,1048.94 L412.61,1047.48 L414.55,1046.01 L416.50,1044.52 L418.44,1043.02 L420.39,1041.50 L422.34,1039.97 L424.28,1038.43 L426.23,1036.87 L428.17,1035.29 L430.12,1033.70 L432.06,1032.10 L434.01,1030.48 L435.95,1028.85 L437.90,1027.20 L439.84,1025.53 L441.79,1023.85 L443.73,1022.16 L445.68,1020.45 L447.62,1018.72 L449.57,1016.98 L451.51,1015.23 L453.46,1013.46 L455.40,1011.67 L457.35,1009.87 L459.29,1008.06 L461.24,1006.23 L463.18,1004.38 L465.13,1002.52 L467.07,1000.64 L469.02,998.75 L470.96,996.84 L472.91,994.92 L474.85,992.98 L476.80,991.03 L478.74,989.06 L480.69,987.08 L482.64,985.08 L484.58,983.07 L486.53,981.04 L488.47,978.99 L490.42,976.93 L492.36,974.85 L494.31,972.76 L496.25,970.65 L498.20,968.53 L500.14,966.39 L502.09,964.24 L504.03,962.07 L505.98,959.88 L507.92,957.68 L509.87,955.47 L511.81,953.24 L513.76,950.99 L515.70,948.73 L517.65,946.45 L519.59,944.15 L521.54,941.85 L523.48,939.52 L525.43,937.18 L527.37,934.82 L529.32,932.45 L531.26,930.07 L533.21,927.66 L535.15,925.25 L537.10,922.81 L539.04,920.36 L540.99,917.90 L542.94,915.42 L544.88,912.92 L546.83,910.41 L548.77,907.88 L550.72,905.34 L552.66,902.78 L554.61,900.21 L556.55,897.62 L558.50,895.01 L560.44,892.39 L562.39,889.76 L564.33,887.10 L566.28,884.44 L568.22,881.75 L570.17,879.06 L572.11,876.34 L574.06,873.61 L576.00,870.87 L577.95,868.11 L579.89,865.33 L581.84,862.54 L583.78,859.73 L585.73,856.91 L587.67,854.07 L589.62,851.22 L591.56,848.35 L593.51,845.47 L595.45,842.57 L597.40,839.65 L599.34,836.72 L601.29,833.78 L603.23,830.81 L605.18,827.84 L607.13,824.84 L609.07,821.84 L611.02,818.81 L612.96,815.78 L614.91,812.72 L616.85,809.65 L618.80,806.57 L620.74,803.47 L622.69,800.35 L624.63,797.22 L626.58,794.08 L628.52,790.92 L630.47,787.74 L632.41,784.55 L634.36,781.34 L636.30,778.12 L638.25,774.88 L640.19,771.63 L642.14,768.36 L644.08,765.08 L646.03,761.78 L647.97,758.46 L649.92,755.14 L651.86,751.79 L653.81,748.43 L655.75,745.06 L657.70,741.67 L659.64,738.27 L661.59,734.85 L663.53,731.41" stroke="#0000ff"/>
<path d="M81.93,1137.50 L83.88,1137.46 L85.82,1137.42 L87.77,1137.38 L89.71,1137.33 L91.66,1137.28 L93.60,1137.23 L95.55,1137.17 L97.49,1137.11 L99.44,1137.05 L101.38,1136.98 L103.33,1136.91 L105.27,1136.83 L107.22,1136.75 L109.16,1136.66 L111.11,1136.57 L113.06,1136.47 L115.00,1136.37 L116.95,1136.27 L118.89,1136.15 L120.84,1136.03 L122.78,1135.91 L124.73,1135.78 L126.67,1135.64 L128.62,1135.50 L130.56,1135.35 L132.51,1135.19 L134.45,1135.02 L136.40,1134.85 L138.34,1134.67 L140.29,1134.48 L142.23,1134.29 L144.18,1134.08 L146.12,1133.87 L148.07,1133.65 L150.01,1133.42 L151.96,1133.18 L153.90,1132.93 L155.85,1132.67 L157.79,1132.40 L159.74,1132.12 L161.68,1131.84 L163.63,1131.54 L165.57,1131.23 L167.52,1130.91 L169.46,1130.59 L171.41,1130.25 L173.36,1129.90 L175.30,1129.53 L177.25,1129.16 L179.19,1128.78 L181.14,1128.38 L183.08,1127.97 L185.03,1127.55 L186.97,1127.11 L188.92,1126.67 L190.86,1126.21 L192.81,1125.74 L194.75,1125.25 L196.70,1124.75 L198.64,1124.24 L200.59,1123.71 L202.53,1123.17 L204.48,1122.61 L206.42,1122.04 L208.37,1121.46 L210.31,1120.86 L212.26,1120.24 L214.20,1119.61 L216.15,1118.97 L218.09,1118.30 L220.04,1117.62 L221.98,1116.93 L223.93,1116.22 L225.87,1115.49 L227.82,1114.75 L229.76,1113.98 L231.71,1113.20 L233.65,1112.41 L235.60,1111.59 L237.55,1110.76 L239.49,1109.91 L241.44,1109.04 L243.38,1108.15 L245.33,1107.24 L247.27,1106.31 L249.22,1105.37 L251.16,1104.40 L253.11,1103.42 L255.05,1102.41 L257.00,1101.39 L258.94,1100.34 L260.89,1099.28 L262.83,1098.19 L264.78,1097.08 L266.72,1095.95 L268.67,1094.80 L270.61,1093.63 L272.56,1092.43 L274.50,1091.22 L276.45,1089.98 L278.39,1088.71 L280.34,1087.43 L282.28,1086.12 L284.23,1084.79 L286.17,1083.44 L288.12,1082.06 L290.06,1080.66 L292.01,1079.23 L293.95,1077.78 L295.90,1076.31 L297.85,1074.81 L299.79,1073.29 L301.74,1071.74 L303.68,1070.16 L305.63,1068.57 L307.57,1066.94 L309.52,1065.29 L311.46,1063.61 L313.41,1061.91 L315.35,1060.18 L317.30,1058.42 L319.24,1056.64 L321.19,1054.83 L323.13,1052.99 L325.08,1051.12 L327.02,1049.23 L328.97,1047.31 L330.91,1045.36 L332.86,1043.38 L334.80,1041.37 L336.75,1039.34 L338.69,1037.27 L340.64,1035.18 L342.58,1033.06 L344.53,1030.90 L346.47,1028.72 L348.42,1026.51 L350.36,1024.27 L352.31,1022.00 L354.25,1019.70 L356.20,1017.37 L358.15,1015.01 L360.09,1012.61 L362.04,1010.19 L363.98,1007.74 L365.93,1005.25 L367.87,1002.73 L369.82,1000.19 L371.76,997.61 L373.71,995.00 L375.65,992.35 L377.60,989.68 L379.54,986.97 L381.49,984.23 L383.43,981.46 L385.38,978.66 L387.32,975.82 L389.27,972.96 L391.21,970.06 L393.16,967.12 L395.10,964.15 L397.05,961.16 L398.99,958.12 L400.94,955.06 L402.88,951.96 L404.83,948.82 L406.77,945.66 L408.72,942.46 L410.66,939.22 L412.61,935.96 L414.55,932.66 L416.50,929.32 L418.44,925.95 L420.39,922.55 L422.34,919.11 L424.28,915.64 L426.23,912.13 L428.17,908.59 L430.12,905.01 L432.06,901.40 L434.01,897.76 L435.95,894.08 L437.90,890.36 L439.84,886.62 L441.79,882.83 L443.73,879.01 L445.68,875.16 L447.62,871.27 L449.57,867.34 L451.51,863.38 L453.46,859.39 L455.40,855.36 L457.35,851.29 L459.29,847.19 L461.24,843.06 L463.18,838.88 L465.13,834.68 L467.07,830.43 L469.02,826.16 L470.96,821.84 L472.91,817.49 L474.85,813.11 L476.80,808.69 L478.74,804.23 L480.69,799.74 L482.64,795.21 L484.58,790.65 L486.53,786.05 L488.47,781.41 L490.42,776.74 L492.36,772.04 L494.31,767.29 L496.25,762.51 L498.20,757.70 L500.14,752.85 L502.09,747.97 L504.03,743.04 L505.98,738.09 L507.92,733.09 L509.87,728.07 L511.81,723.00 L513.76,717.90 L515.70,712.76 L517.65,707.59 L519.59,702.39 L521.54,697.14 L523.48,691.86 L525.43,686.55 L527.37,681.20 L529.32,675.81 L531.26,670.39 L533.21,664.94 L535.15,659.44 L537.10,653.91 L539.04,648.35 L540.99,642.75 L542.94,637.12 L544.88,631.45 L546.83,625.74 L548.77,620.00 L550.72,614.23 L552.66,608.42 L554.61,602.57 L556.55,596.69 L558.50,590.77 L560.44,584.82 L562.39,578.84 L564.33,572.82 L566.28,566.76 L568.22,560.67 L570.17,554.54 L572.11,548.38 L574.06,542.19 L576.00,535.96 L577.95,529.69 L579.89,523.40 L581.84,517.06 L583.78,510.69 L585.73,504.29 L587.67,497.86 L589.62,491.39 L591.56,484.88 L593.51,478.34 L595.45,471.77 L597.40,465.16 L599.34,458.52 L601.29,451.85 L603.23,445.14 L605.18,438.40 L607.13,431.63 L609.07,424.82 L611.02,417.98 L612.96,411.10 L614.91,404.19 L616.85,397.25 L618.80,390.28 L620.74,383.27 L622.69,376.23 L624.63,369.15 L626.58,362.05 L628.52,354.91 L630.47,347.74 L632.41,340.53 L634.36,333.30 L636.30,326.03 L638.25,318.73 L640.19,311.39 L642.14,304.03 L644.08,296.63 L646.03,289.20 L647.97,281.74 L649.92,274.25 L651.86,266.72 L653.81,259.17 L655.75,251.58 L657.70,243.96 L659.64,236.31 L661.59,228.63 L663.53,220.92" stroke="#ff0000"/>
<path d="M81.93,1137.73 L83.88,1137.71 L85.82,1137.69 L87.77,1137.67 L89.71,1137.65 L91.66,1137.63 L93.60,1137.60 L95.55,1137.58 L97.49,1137.55 L99.44,1137.52 L101.38,1137.49 L103.33,1137.45 L105.27,1137.42 L107.22,1137.38 L109.16,1137.34 L111.11,1137.29 L113.06,1137.25 L115.00,1137.20 L116.95,1137.15 L118.89,1137.10 L120.84,1137.04 L122.78,1136.99 L124.73,1136.93 L126.67,1136.86 L128.62,1136.79 L130.56,1136.72 L132.51,1136.65 L134.45,1136.57 L136.40,1136.49 L138.34,1136.41 L140.29,1136.32 L142.23,1136.23 L144.18,1136.13 L146.12,1136.03 L148.07,1135.93 L150.01,1135.82 L151.96,1135.71 L153.90,1135.59 L155.85,1135.47 L157.79,1135.34 L159.74,1135.21 L161.68,1135.07 L163.63,1134.93 L165.57,1134.78 L167.52,1134.63 L169.46,1134.47 L171.41,1134.31 L173.36,1134.14 L175.30,1133.97 L177.25,1133.79 L179.19,1133.60 L181.14,1133.40 L183.08,1133.20 L185.03,1133.00 L186.97,1132.78 L188.92,1132.56 L190.86,1132.34 L192.81,1132.10 L194.75,1131.86 L196.70,1131.61 L198.64,1131.35 L200.59,1131.09 L202.53,1130.81 L204.48,1130.53 L206.42,1130.24 L208.37,1129.95 L210.31,1129.64 L212.26,1129.33 L214.20,1129.00 L216.15,1128.67 L218.09,1128.33 L220.04,1127.97 L221.98,1127.61 L223.93,1127.24 L225.87,1126.86 L227.82,1126.47 L229.76,1126.07 L231.71,1125.65 L233.65,1125.23 L235.60,1124.80 L237.55,1124.35 L239.49,1123.90 L241.44,1123.43 L243.38,1122.95 L245.33,1122.46 L247.27,1121.96 L249.22,1121.44 L251.16,1120.91 L253.11,1120.37 L255.05,1119.82 L257.00,1119.25 L258.94,1118.68 L260.89,1118.08 L262.83,1117.48 L264.78,1116.86 L266.72,1116.22 L268.67,1115.58 L270.61,1114.91 L272.56,1114.24 L274.50,1113.55 L276.45,1112.84 L278.39,1112.12 L280.34,1111.38 L282.28,1110.63 L284.23,1109.86 L286.17,1109.07 L288.12,1108.27 L290.06,1107.45 L292.01,1106.62 L293.95,1105.76 L295.90,1104.89 L297.85,1104.01 L299.79,1103.10 L301.74,1102.18 L303.68,1101.24 L305.63,1100.28 L307.57,1099.30 L309.52,1098.30 L311.46,1097.29 L313.41,1096.25 L315.35,1095.19 L317.30,1094.12 L319.24,1093.02 L321.19,1091.91 L323.13,1090.77 L325.08,1089.61 L327.02,1088.43 L328.97,1087.23 L330.91,1086.01 L332.86,1084.77 L334.80,1083.50 L336.75,1082.21 L338.69,1080.90 L340.64,1079.56 L342.58,1078.21 L344.53,1076.82 L346.47,1075.42 L348.42,1073.99 L350.36,1072.54 L352.31,1071.06 L354.25,1069.55 L356.20,1068.02 L358.15,1066.47 L360.09,1064.89 L362.04,1063.28 L363.98,1061.65 L365.93,1059.99 L367.87,1058.31 L369.82,1056.59 L371.76,1054.85 L373.71,1053.08 L375.65,1051.29 L377.60,1049.46 L379.54,1047.61 L381.49,1045.72 L383.43,1043.81 L385.38,1041.87 L387.32,1039.90 L389.27,1037.90 L391.21,1035.86 L393.16,1033.80 L395.10,1031.71 L397.05,1029.58 L398.99,1027.42 L400.94,1025.23 L402.88,1023.01 L404.83,1020.76 L406.77,1018.47 L408.72,1016.15 L410.66,1013.79 L412.61,1011.40 L414.55,1008.98 L416.50,1006.52 L418.44,1004.03 L420.39,1001.50 L422.34,998.94 L424.28,996.34 L426.23,993.70 L428.17,991.03 L430.12,988.32 L432.06,985.58 L434.01,982.79 L435.95,979.97 L437.90,977.11 L439.84,974.21 L441.79,971.27 L443.73,968.29 L445.68,965.27 L447.62,962.22 L449.57,959.12 L451.51,955.98 L453.46,952.80 L455.40,949.58 L457.35,946.31 L459.29,943.01 L461.24,939.66 L463.18,936.27 L465.13,932.83 L467.07,929.35 L469.02,925.83 L470.96,922.27 L472.91,918.65 L474.85,915.00 L476.80,911.29 L478.74,907.55 L480.69,903.75 L482.64,899.91 L484.58,896.02 L486.53,892.09 L488.47,888.10 L490.42,884.07 L492.36,879.99 L494.31,875.86 L496.25,871.68 L498.20,867.45 L500.14,863.17 L502.09,858.84 L504.03,854.46 L505.98,850.03 L507.92,845.55 L509.87,841.01 L511.81,836.42 L513.76,831.78 L515.70,827.09 L517.65,822.34 L519.59,817.54 L521.54,812.68 L523.48,807.77 L525.43,802.80 L527.37,797.78 L529.32,792.70 L531.26,787.56 L533.21,782.37 L535.15,777.11 L537.10,771.81 L539.04,766.44 L540.99,761.01 L542.94,755.53 L544.88,749.98 L546.83,744.38 L548.77,738.71 L550.72,732.98 L552.66,727.19 L554.61,721.34 L556.55,715.43 L558.50,709.46 L560.44,703.42 L562.39,697.32 L564.33,691.15 L566.28,684.92 L568.22,678.62 L570.17,672.26 L572.11,665.84 L574.06,659.34 L576.00,652.78 L577.95,646.16 L579.89,639.46 L581.84,632.70 L583.78,625.87 L585.73,618.97 L587.67,612.00 L589.62,604.96 L591.56,597.85 L593.51,590.67 L595.45,583.42 L597.40,576.09 L599.34,568.70 L601.29,561.23 L603.23,553.68 L605.18,546.07 L607.13,538.38 L609.07,530.61 L611.02,522.77 L612.96,514.85 L614.91,506.86 L616.85,498.79 L618.80,490.65 L620.74,482.42 L622.69,474.12 L624.63,465.74 L626.58,457.28 L628.52,448.74 L630.47,440.12 L632.41,431.42 L634.36,422.64 L636.30,413.78 L638.25,404.83 L640.19,395.81 L642.14,386.70 L644.08,377.50 L646.03,368.22 L647.97,358.86 L649.92,349.41 L651.86,339.88 L653.81,330.26 L655.75,320.55 L657.70,310.76 L659.64,300.88 L661.59,290.91 L663.53,280.85" stroke="#8c5a2d"/>
<path d="M81.93,1137.73 L83.88,1137.71 L85.82,1137.70 L87.77,1137.68 L89.71,1137.65 L91.66,1137.63 L93.60,1137.61 L95.55,1137.58 L97.49,1137.55 L99.44,1137.53 L101.38,1137.49 L103.33,1137.46 L105.27,1137.43 L107.22,1137.39 L109.16,1137.35 L111.11,1137.31 L113.06,1137.27 L115.00,1137.22 L116.95,1137.17 L118.89,1137.12 L120.84,1137.07 L122.78,1137.02 L124.73,1136.96 L126.67,1136.90 L128.62,1136.83 L130.56,1136.77 L132.51,1136.70 L134.45,1136.62 L136.40,1136.55 L138.34,1136.47 L140.29,1136.39 L142.23,1136.30 L144.18,1136.21 L146.12,1136.12 L148.07,1136.02 L150.01,1135.92 L151.96,1135.81 L153.90,1135.71 L155.85,1135.59 L157.79,1135.48 L159.74,1135.36 L161.68,1135.23 L163.63,1135.10 L165.57,1134.97 L167.52,1134.83 L169.46,1134.68 L171.41,1134.53 L173.36,1134.38 L175.30,1134.22 L177.25,1134.06 L179.19,1133.89 L181.14,1133.71 L183.08,1133.53 L185.03,1133.35 L186.97,1133.16 L188.92,1132.96 L190.86,1132.76 L192.81,1132.55 L194.75,1132.34 L196.70,1132.12 L198.64,1131.89 L200.59,1131.66 L202.53,1131.42 L204.48,1131.17 L206.42,1130.92 L208.37,1130.66 L210.31,1130.39 L212.26,1130.12 L214.20,1129.84 L216.15,1129.55 L218.09,1129.26 L220.04,1128.95 L221.98,1128.65 L223.93,1128.33 L225.87,1128.00 L227.82,1127.67 L229.76,1127.33 L231.71,1126.98 L233.65,1126.63 L235.60,1126.26 L237.55,1125.89 L239.49,1125.51 L241.44,1125.12 L243.38,1124.72 L245.33,1124.31 L247.27,1123.89 L249.22,1123.47 L251.16,1123.03 L253.11,1122.59 L255.05,1122.14 L257.00,1121.68 L258.94,1121.21 L260.89,1120.72 L262.83,1120.23 L264.78,1119.73 L266.72,1119.22 L268.67,1118.70 L270.61,1118.17 L272.56,1117.63 L274.50,1117.08 L276.45,1116.52 L278.39,1115.95 L280.34,1115.36 L282.28,1114.77 L284.23,1114.16 L286.17,1113.55 L288.12,1112.92 L290.06,1112.28 L292.01,1111.63 L293.95,1110.97 L295.90,1110.30 L297.85,1109.62 L299.79,1108.92 L301.74,1108.21 L303.68,1107.49 L305.63,1106.76 L307.57,1106.01 L309.52,1105.26 L311.46,1104.49 L313.41,1103.71 L315.35,1102.91 L317.30,1102.10 L319.24,1101.28 L321.19,1100.45 L323.13,1099.60 L325.08,1098.74 L327.02,1097.86 L328.97,1096.97 L330.91,1096.07 L332.86,1095.15 L334.80,1094.22 L336.75,1093.28 L338.69,1092.32 L340.64,1091.34 L342.58,1090.35 L344.53,1089.35 L346.47,1088.33 L348.42,1087.29 L350.36,1086.24 L352.31,1085.18 L354.25,1084.10 L356.20,1083.00 L358.15,1081.89 L360.09,1080.76 L362.04,1079.61 L363.98,1078.45 L365.93,1077.27 L367.87,1076.07 L369.82,1074.86 L371.76,1073.63 L373.71,1072.38 L375.65,1071.11 L377.60,1069.83 L379.54,1068.52 L381.49,1067.20 L383.43,1065.86 L385.38,1064.50 L387.32,1063.12 L389.27,1061.73 L391.21,1060.31 L393.16,1058.87 L395.10,1057.42 L397.05,1055.94 L398.99,1054.44 L400.94,1052.92 L402.88,1051.38 L404.83,1049.82 L406.77,1048.24 L408.72,1046.63 L410.66,1045.00 L412.61,1043.35 L414.55,1041.68 L416.50,1039.98 L418.44,1038.26 L420.39,1036.52 L422.34,1034.75 L424.28,1032.95 L426.23,1031.14 L428.17,1029.29 L430.12,1027.42 L432.06,1025.53 L434.01,1023.60 L435.95,1021.65 L437.90,1019.67 L439.84,1017.67 L441.79,1015.64 L443.73,1013.57 L445.68,1011.48 L447.62,1009.36 L449.57,1007.21 L451.51,1005.02 L453.46,1002.81 L455.40,1000.56 L457.35,998.29 L459.29,995.97 L461.24,993.63 L463.18,991.25 L465.13,988.84 L467.07,986.39 L469.02,983.90 L470.96,981.38 L472.91,978.83 L474.85,976.23 L476.80,973.60 L478.74,970.92 L480.69,968.21 L482.64,965.45 L484.58,962.66 L486.53,959.82 L488.47,956.94 L490.42,954.02 L492.36,951.05 L494.31,948.03 L496.25,944.97 L498.20,941.86 L500.14,938.71 L502.09,935.50 L504.03,932.25 L505.98,928.94 L507.92,925.58 L509.87,922.17 L511.81,918.71 L513.76,915.19 L515.70,911.61 L517.65,907.98 L519.59,904.29 L521.54,900.54 L523.48,896.73 L525.43,892.86 L527.37,888.92 L529.32,884.92 L531.26,880.86 L533.21,876.73 L535.15,872.53 L537.10,868.26 L539.04,863.92 L540.99,859.50 L542.94,855.02 L544.88,850.45 L546.83,845.81 L548.77,841.10 L550.72,836.30 L552.66,831.42 L554.61,826.46 L556.55,821.41 L558.50,816.28 L560.44,811.06 L562.39,805.74 L564.33,800.34 L566.28,794.84 L568.22,789.25 L570.17,783.56 L572.11,777.76 L574.06,771.87 L576.00,765.88 L577.95,759.77 L579.89,753.56 L581.84,747.24 L583.78,740.81 L585.73,734.26 L587.67,727.60 L589.62,720.81 L591.56,713.91 L593.51,706.88 L595.45,699.72 L597.40,692.43 L599.34,685.02 L601.29,677.46 L603.23,669.77 L605.18,661.94 L607.13,653.97 L609.07,645.85 L611.02,637.59 L612.96,629.17 L614.91,620.60 L616.85,611.87 L618.80,602.98 L620.74,593.92 L622.69,584.70 L624.63,575.31 L626.58,565.74 L628.52,556.00 L630.47,546.08 L632.41,535.97 L634.36,525.67 L636.30,515.19 L638.25,504.51 L640.19,493.62 L642.14,482.54 L644.08,471.25 L646.03,459.75 L647.97,448.03 L649.92,436.09 L651.86,423.93 L653.81,411.55 L655.75,398.93 L657.70,386.07 L659.64,372.97 L661.59,359.63 L663.53,346.04" stroke="#00ff00"/>
</g>
<text x="62.44" y="1146.60" font-size="24.96" textLength="13.92" lengthAdjust="spacingAndGlyphs" fill="#000">0</text>
<text x="62.21" y="1028.00" font-size="25.07" textLength="14.72" lengthAdjust="spacingAndGlyphs" fill="#000">2</text>
<text x="63.00" y="909.40" font-size="25.22" textLength="12.69" lengthAdjust="spacingAndGlyphs" fill="#000">4</text>
<text x="62.31" y="790.80" font-size="25.07" textLength="13.81" lengthAdjust="spacingAndGlyphs" fill="#000">6</text>
<text x="62.44" y="672.20" font-size="24.96" textLength="13.92" lengthAdjust="spacingAndGlyphs" fill="#000">8</text>
<text x="117.28" y="1164.00" font-size="25.26" textLength="33.93" lengthAdjust="spacingAndGlyphs" fill="#000">0.2</text>
<text x="248.01" y="1164.00" font-size="25.26" textLength="32.81" lengthAdjust="spacingAndGlyphs" fill="#000">0.4</text>
<text x="378.69" y="1164.00" font-size="25.26" textLength="33.20" lengthAdjust="spacingAndGlyphs" fill="#000">0.6</text>
<text x="509.38" y="1164.00" font-size="25.26" textLength="33.44" lengthAdjust="spacingAndGlyphs" fill="#000">0.8</text>
<text x="649.50" y="1164.00" font-size="25.90" textLength="14.20" lengthAdjust="spacingAndGlyphs" fill="#000">1</text>
<circle cx="96.7" cy="642.7" r="1.5" fill="#000"/>
<text x="99.82" y="649.40" font-size="26.46" textLength="28.26" lengthAdjust="spacingAndGlyphs" fill="#000">10</text>
<rect x="129.40" y="634.92" width="12.80" height="1.15" fill="#000"/>
<text x="144.58" y="641.00" font-size="18.58" textLength="11.74" lengthAdjust="spacingAndGlyphs" fill="#000">3</text>
<g transform="translate(364.70,1186.60) scale(1.1618,1.0506)" fill="none" stroke="#000" stroke-linecap="round"><path d="M0.8,4.6 C1.6,1.9 3.5,0.8 5.2,0.85 C7.4,0.95 8.6,2.9 9.0,7.2" stroke-width="1.55"/><path d="M12.7,1.1 L7.75,14.9" stroke-width="1.85"/></g>
<g transform="rotate(-90)">
<rect x="-908.50" y="31.93" width="17.20" height="1.15" fill="#000"/>
<text x="-882.20" y="39.60" font-size="29.08" textLength="13.63" lengthAdjust="spacingAndGlyphs" fill="#000">1</text>
</g>
<g transform="translate(21.00,662.20)" stroke="#000" fill="none">
<path d="M0.45,266.7 C0.7,264.6 1.8,263.2 4.0,262.4 L17.9,256.9" stroke-width="2.2"/>
<path d="M15.2,258.1 L18.0,256.9" stroke-width="2.9" stroke-linecap="round"/>
<path d="M9.96,261.1 L17.67,269.0" stroke-width="1.6"/>
</g>
<g transform="translate(-402.80,362.10)">
<rect x="506.0" y="316.4" width="151.4" height="144.9" fill="#fff" stroke="#000" stroke-width="1.35"/>
<line x1="515.5" y1="335.20" x2="566.5" y2="335.20" stroke="#0000ff" stroke-width="1.6"/>
<line x1="515.5" y1="366.00" x2="566.5" y2="366.00" stroke="#ff0000" stroke-width="1.6"/>
<line x1="515.5" y1="401.70" x2="566.5" y2="401.70" stroke="#8c5a2d" stroke-width="1.6"/>
<line x1="515.5" y1="437.20" x2="566.5" y2="437.20" stroke="#00ff00" stroke-width="1.6"/>
<text x="583.38" y="338.80" font-size="22.50" textLength="48.35" lengthAdjust="spacingAndGlyphs" fill="#000">num</text>
<text x="575.57" y="374.40" font-size="25.98" font-style="italic" textLength="21.94" lengthAdjust="spacingAndGlyphs" fill="#000">O</text>
<text x="596.80" y="374.40" font-size="28.30" textLength="8.30" lengthAdjust="spacingAndGlyphs" fill="#000">(</text>
<text x="605.68" y="374.40" font-size="26.47" font-style="italic" textLength="9.63" lengthAdjust="spacingAndGlyphs" fill="#000">t</text>
<text x="617.30" y="364.90" font-size="15.71" textLength="10.23" lengthAdjust="spacingAndGlyphs" fill="#000">2</text>
<text x="630.02" y="374.40" font-size="28.30" textLength="8.04" lengthAdjust="spacingAndGlyphs" fill="#000">)</text>
<text x="572.90" y="410.20" font-size="26.58" font-style="italic" textLength="20.16" lengthAdjust="spacingAndGlyphs" fill="#000">O</text>
<text x="594.44" y="410.20" font-size="28.30" textLength="8.82" lengthAdjust="spacingAndGlyphs" fill="#000">(</text>
<g transform="translate(603.90,399.10) scale(1.0000,1.0000)" fill="none" stroke="#000" stroke-linecap="round"><path d="M0.8,4.6 C1.6,1.9 3.5,0.8 5.2,0.85 C7.4,0.95 8.6,2.9 9.0,7.2" stroke-width="1.55"/><path d="M12.7,1.1 L7.75,14.9" stroke-width="1.85"/></g>
<text x="617.62" y="401.40" font-size="17.47" textLength="12.26" lengthAdjust="spacingAndGlyphs" fill="#000">4</text>
<text x="631.82" y="410.20" font-size="28.30" textLength="9.08" lengthAdjust="spacingAndGlyphs" fill="#000">)</text>
<text x="572.90" y="445.60" font-size="26.58" font-style="italic" textLength="20.16" lengthAdjust="spacingAndGlyphs" fill="#000">O</text>
<text x="594.44" y="445.60" font-size="28.30" textLength="8.82" lengthAdjust="spacingAndGlyphs" fill="#000">(</text>
<g transform="translate(603.90,434.50) scale(1.0000,1.0000)" fill="none" stroke="#000" stroke-linecap="round"><path d="M0.8,4.6 C1.6,1.9 3.5,0.8 5.2,0.85 C7.4,0.95 8.6,2.9 9.0,7.2" stroke-width="1.55"/><path d="M12.7,1.1 L7.75,14.9" stroke-width="1.85"/></g>
<text x="618.08" y="438.80" font-size="17.29" textLength="12.03" lengthAdjust="spacingAndGlyphs" fill="#000">8</text>
<text x="631.82" y="445.60" font-size="28.30" textLength="9.08" lengthAdjust="spacingAndGlyphs" fill="#000">)</text>
</g>
<text x="186.40" y="1247.30" font-size="28.97" font-weight="bold" textLength="36.20" lengthAdjust="spacingAndGlyphs" fill="#000">(b)</text>
<g transform="translate(234.10,1229.50) scale(1.0515,1.1329)" fill="none" stroke="#000" stroke-linecap="round"><path d="M0.8,4.6 C1.6,1.9 3.5,0.8 5.2,0.85 C7.4,0.95 8.6,2.9 9.0,7.2" stroke-width="1.55"/><path d="M12.7,1.1 L7.75,14.9" stroke-width="1.85"/></g>
<text x="257.43" y="1246.40" font-size="36.98" textLength="19.46" lengthAdjust="spacingAndGlyphs" fill="#000">≤</text>
<text x="284.63" y="1242.40" font-size="24.84" textLength="13.49" lengthAdjust="spacingAndGlyphs" fill="#000">1</text>
<text x="299.07" y="1242.50" font-size="26.00" textLength="7.39" lengthAdjust="spacingAndGlyphs" fill="#000">,</text>
<text x="313.41" y="1241.90" font-size="24.00" textLength="74.74" lengthAdjust="spacingAndGlyphs" fill="#000" style="stroke-width:0.1px">double</text>
<text x="395.47" y="1241.90" font-size="24.00" textLength="60.47" lengthAdjust="spacingAndGlyphs" fill="#000" style="stroke-width:0.1px">linear</text>
<text x="465.65" y="1241.90" font-size="24.00" textLength="48.13" lengthAdjust="spacingAndGlyphs" fill="#000" style="stroke-width:0.1px">axes</text>
</svg>
</body></html>
